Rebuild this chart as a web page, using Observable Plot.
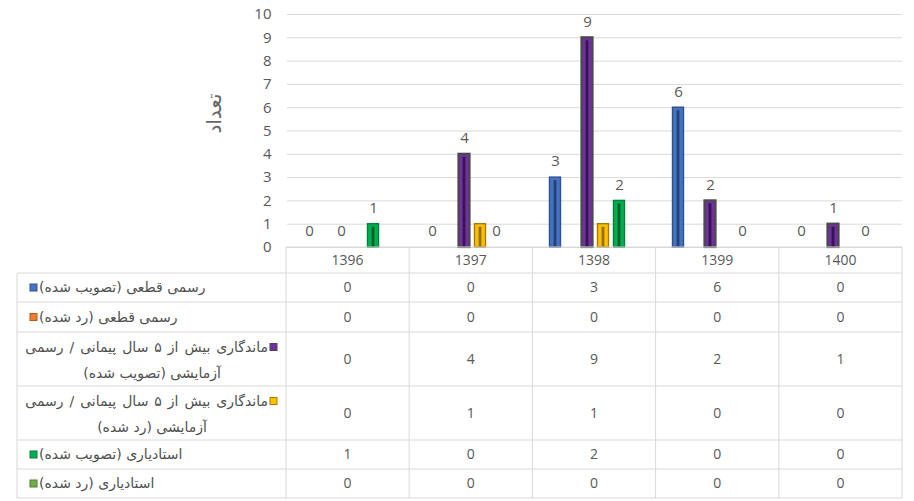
<!DOCTYPE html>
<html><head><meta charset="utf-8">
<script src="https://cdn.jsdelivr.net/npm/d3@7"></script>
<script src="https://cdn.jsdelivr.net/npm/@observablehq/plot@0.6"></script>
<style>body{margin:0;background:#fff;overflow:hidden;}</style>
</head><body><div id="chart"></div>
<script>
const years = ["1396", "1397", "1398", "1399", "1400"];
const seriesLine1 = [
  "رسمی قطعی (تصویب شده)",
  "رسمی قطعی (رد شده)",
  "ماندگاری بیش از ۵ سال پیمانی / رسمی",
  "ماندگاری بیش از ۵ سال پیمانی / رسمی",
  "استادیاری (تصویب شده)",
  "استادیاری (رد شده)"
];
const seriesLine2 = ["", "", "آزمایشی (تصویب شده)", "آزمایشی (رد شده)", "", ""];
const s1 = [0, 0, 3, 6, 0];
const s2 = [0, 0, 0, 0, 0];
const s3 = [0, 4, 9, 2, 1];
const s4 = [0, 1, 1, 0, 0];
const s5 = [1, 0, 2, 0, 0];
const s6 = [0, 0, 0, 0, 0];
const seriesValues = [s1, s2, s3, s4, s5, s6];
const labeledSeries = [0, 2, 4];
const yTicks = [0, 1, 2, 3, 4, 5, 6, 7, 8, 9, 10];
const yLabel = "تعداد";

const fills = ["#4472C4", "#ED7D31", "#7030A0", "#FFC000", "#00B050", "#70AD47"];
const borders = ["#2F528F", "#AE5A21", "#4a4a4a", "#A67C00", "#00803A", "#507E32"];
const stripes = ["#1F3864", "#843C0C", "#2E0F45", "#7F6000", "#004D25", "#375623"];
const grey = "#595959";
const lineGrey = "#d9d9d9";
const RLM = "\u200F";

const data = [];
seriesValues.forEach((vals, s) => vals.forEach((v, i) => data.push({year: years[i], s, value: v})));

const marks = [
  Plot.gridY(yTicks, {stroke: lineGrey, strokeOpacity: 1, strokeWidth: 1}),
  Plot.axisY(yTicks, {tickSize: 0, tickPadding: 16, label: null, fontSize: 15, fill: grey})
];
for (let s = 0; s < 6; s++) {
  const d = data.filter(r => r.s === s && r.value > 0);
  marks.push(Plot.barY(d, {fx: "year", x: "s", y: "value", fill: fills[s], stroke: borders[s], strokeWidth: s === 2 ? 2.2 : 1.4, insetLeft: 0.5, insetRight: 0.5}));
  marks.push(Plot.barY(d, {fx: "year", x: "s", y: "value", fill: stripes[s], insetLeft: 4.6, insetRight: 4.6, insetTop: 3, fillOpacity: 0.85}));
}
marks.push(Plot.text(data.filter(r => labeledSeries.includes(r.s)), {
  fx: "year", x: "s", y: "value", text: d => String(d.value), dy: -16, fontSize: 15, fill: grey
}));

const plot = Plot.plot({
  width: 914, height: 501,
  marginLeft: 286, marginRight: 12, marginTop: 14, marginBottom: 254,
  style: {fontFamily: "'Open Sans', sans-serif", color: grey, background: "#fff"},
  fx: {domain: years, padding: 0, axis: null, label: null},
  x: {domain: [0, 1, 2, 3, 4, 5], paddingInner: 0.26, paddingOuter: 0.82, axis: null},
  y: {domain: [0, 10], axis: null},
  marks
});
document.getElementById("chart").appendChild(plot);

// Data table drawn from the chart's own facet scale
const svg = d3.select(plot);
const fx = plot.scale("fx");
const yS = plot.scale("y");
const band = d3.scaleBand().domain(fx.domain).range(fx.range).paddingInner(fx.paddingInner ?? 0).paddingOuter(fx.paddingOuter ?? 0);
const x0 = fx.range[0], x1 = fx.range[1];
const tableTop = yS.apply ? yS.apply(0) : 247;
const headerH = 26;
const rowHeights = [29, 30, 54, 54, 29, 29];
const leftX = 17;
const rowTops = [tableTop + headerH];
rowHeights.forEach((h, i) => rowTops.push(rowTops[i] + h));
const tableBottom = rowTops[rowTops.length - 1];

const g = svg.append("g").attr("class", "data-table");
const line = (xa, ya, xb, yb) => g.append("line").attr("x1", xa).attr("y1", ya).attr("x2", xb).attr("y2", yb).attr("stroke", lineGrey).attr("stroke-width", 1);
line(x0, tableTop, x1, tableTop);
rowTops.forEach(t => line(leftX, t, x1, t));
line(leftX, rowTops[0], leftX, tableBottom);
years.forEach(yv => line(band(yv), tableTop, band(yv), tableBottom));
line(x1, tableTop, x1, tableBottom);

years.forEach(yv => g.append("text").attr("x", band(yv) + band.bandwidth() / 2).attr("y", tableTop + headerH / 2)
  .attr("dy", "0.35em").attr("text-anchor", "middle").attr("font-size", 14).attr("fill", grey).text(yv));

const fa = "'DejaVu Sans', sans-serif";
const fs = 14;
seriesValues.forEach((vals, s) => {
  const cy = (rowTops[s] + rowTops[s + 1]) / 2;
  vals.forEach((v, i) => g.append("text").attr("x", band(years[i]) + band.bandwidth() / 2).attr("y", cy)
    .attr("dy", "0.35em").attr("text-anchor", "middle").attr("font-size", 14).attr("fill", grey).text(String(v)));
  if (!seriesLine2[s]) {
    g.append("rect").attr("x", 30).attr("y", cy - 3.5).attr("width", 7).attr("height", 7)
      .attr("fill", fills[s]).attr("stroke", borders[s]).attr("stroke-width", 1);
    g.append("text").attr("x", 39).attr("y", cy).attr("dy", "0.35em").attr("text-anchor", "start")
      .attr("font-family", fa).attr("font-size", fs).attr("fill", "#505050").text(RLM + seriesLine1[s] + RLM);
  } else {
    const yA = rowTops[s] + 15, yB = rowTops[s] + 41;
    g.append("rect").attr("x", 270).attr("y", yA - 3.5).attr("width", 7).attr("height", 7)
      .attr("fill", fills[s]).attr("stroke", borders[s]).attr("stroke-width", 1);
    g.append("text").attr("x", 268).attr("y", yA).attr("dy", "0.35em").attr("text-anchor", "end")
      .attr("font-family", fa).attr("font-size", fs).attr("word-spacing", 1.5).attr("fill", "#505050").text(RLM + seriesLine1[s] + RLM);
    g.append("text").attr("x", 152).attr("y", yB).attr("dy", "0.35em").attr("text-anchor", "middle")
      .attr("font-family", fa).attr("font-size", fs).attr("fill", "#505050").text(RLM + seriesLine2[s] + RLM);
  }
});

svg.append("text").attr("transform", `translate(214,${(yS.apply(0) + yS.apply(10)) / 2 - 17}) rotate(-90)`)
  .attr("text-anchor", "middle").attr("dy", "0.35em").attr("font-family", fa)
  .attr("font-size", 20).attr("fill", "#666").text(yLabel);
</script>
</body></html>
